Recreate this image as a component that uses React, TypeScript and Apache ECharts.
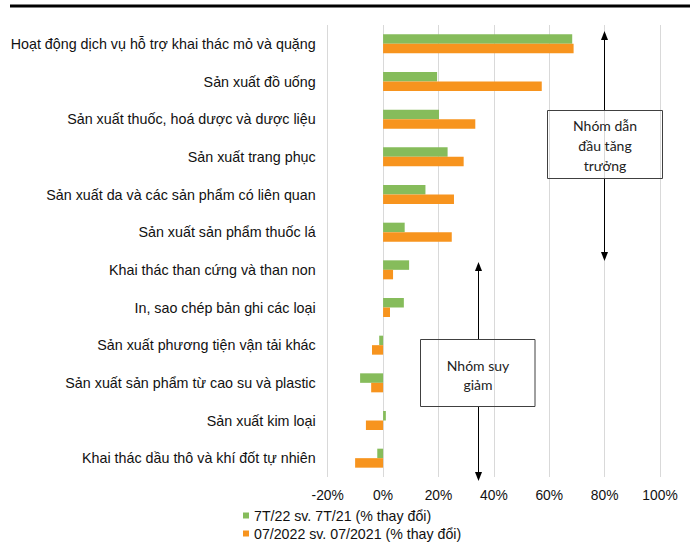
import React, { useEffect, useRef } from "react";
import * as echarts from "echarts";

const categories = [
  "Hoạt động dịch vụ hỗ trợ khai thác mỏ và quặng",
  "Sản xuất đồ uống",
  "Sản xuất thuốc, hoá dược và dược liệu",
  "Sản xuất trang phục",
  "Sản xuất da và các sản phẩm có liên quan",
  "Sản xuất sản phẩm thuốc lá",
  "Khai thác than cứng và than non",
  "In, sao chép bản ghi các loại",
  "Sản xuất phương tiện vận tải khác",
  "Sản xuất sản phẩm từ cao su và plastic",
  "Sản xuất kim loại",
  "Khai thác dầu thô và khí đốt tự nhiên",
];

const seriesYtdName = "7T/22 sv. 7T/21 (% thay đổi)";
const seriesMonthName = "07/2022 sv. 07/2021 (% thay đổi)";

const ytdValues = [68.3, 19.5, 20.2, 23.3, 15.3, 7.8, 9.4, 7.5, -1.4, -8.3, 1.0, -2.1];
const monthValues = [68.8, 57.3, 33.3, 29.1, 25.6, 24.8, 3.6, 2.5, -4.0, -4.3, -6.2, -10.1];

const xMin = -20;
const xMax = 100;
const xInterval = 20;

const groupLeadText = "Nhóm dẫn\nđầu tăng\ntrưởng";
const groupDeclineText = "Nhóm suy\ngiảm";

function arrow(x: number, top: number, boxTop: number, boxBottom: number, bottom: number) {
  const c = "#000";
  return [
    { type: "line", z: 100, shape: { x1: x, y1: top + 7, x2: x, y2: boxTop }, style: { stroke: c, lineWidth: 1 } },
    { type: "line", z: 100, shape: { x1: x, y1: boxBottom, x2: x, y2: bottom - 7 }, style: { stroke: c, lineWidth: 1 } },
    { type: "polygon", z: 100, shape: { points: [[x, top], [x - 3.5, top + 9], [x + 3.5, top + 9]] }, style: { fill: c } },
    { type: "polygon", z: 100, shape: { points: [[x, bottom], [x - 3.5, bottom - 9], [x + 3.5, bottom - 9]] }, style: { fill: c } },
  ];
}

export default function App() {
  const ref = useRef<HTMLDivElement>(null);
  useEffect(() => {
    if (!ref.current) return;
    const chart = echarts.init(ref.current, null, { renderer: "svg" });
    const font = "Arial, 'Liberation Sans', sans-serif";
    chart.setOption({
      animation: false,
      backgroundColor: "#fff",
      textStyle: { fontFamily: font },
      grid: { left: 327.7, right: 34, top: 25, bottom: 65 },
      legend: {
        orient: "vertical",
        left: 243,
        top: 508.5,
        height: 34,
        padding: 0,
        itemWidth: 6,
        itemHeight: 6,
        itemGap: 4,
        icon: "rect",
        textStyle: { fontFamily: font, fontSize: 14.2, color: "#111", lineHeight: 13 },
        data: [seriesYtdName, seriesMonthName],
      },
      xAxis: {
        type: "value",
        min: xMin,
        max: xMax,
        interval: xInterval,
        axisLine: { show: false },
        axisTick: { show: false },
        splitLine: { lineStyle: { color: "#D9D9D9", width: 1 } },
        axisLabel: { formatter: "{value}%", fontSize: 13.8, color: "#111", margin: 11, fontFamily: font },
      },
      yAxis: {
        type: "category",
        inverse: true,
        data: categories,
        axisLine: { show: false },
        axisTick: { show: false },
        axisLabel: { fontSize: 14.3, color: "#111", margin: 12, fontFamily: font },
      },
      series: [
        {
          name: seriesYtdName,
          type: "bar",
          data: ytdValues,
          barWidth: 9.5,
          barGap: "0%",
          itemStyle: { color: "#86BC5B" },
        },
        {
          name: seriesMonthName,
          type: "bar",
          data: monthValues,
          barWidth: 9.5,
          barGap: "0%",
          itemStyle: { color: "#F7941E" },
        },
      ],
      graphic: [
        { type: "line", z: 100, shape: { x1: 10, y1: 6, x2: 690, y2: 6 }, style: { stroke: "#000", lineWidth: 3 } },
        ...arrow(604.5, 31, 110.5, 178.5, 261),
        { type: "rect", z: 100, shape: { x: 547.5, y: 110.5, width: 115, height: 68 }, style: { fill: "none", stroke: "#404040", lineWidth: 1 } },
        {
          type: "text",
          z: 100,
          x: 605,
          y: 145.5,
          style: {
            text: groupLeadText,
            align: "center",
            verticalAlign: "middle",
            font: "14px Lato, 'Open Sans', sans-serif",
            lineHeight: 20,
            fill: "#222",
          },
        },
        ...arrow(478.5, 262, 339.5, 406.5, 481),
        { type: "rect", z: 100, shape: { x: 420.5, y: 339.5, width: 114.5, height: 67 }, style: { fill: "none", stroke: "#404040", lineWidth: 1 } },
        {
          type: "text",
          z: 100,
          x: 478,
          y: 374.5,
          style: {
            text: groupDeclineText,
            align: "center",
            verticalAlign: "middle",
            font: "14px Lato, 'Open Sans', sans-serif",
            lineHeight: 19,
            fill: "#222",
          },
        },
      ],
    });
    return () => chart.dispose();
  }, []);
  return <div ref={ref} style={{ position: "fixed", left: 0, top: 0, width: 694, height: 542 }} />;
}
